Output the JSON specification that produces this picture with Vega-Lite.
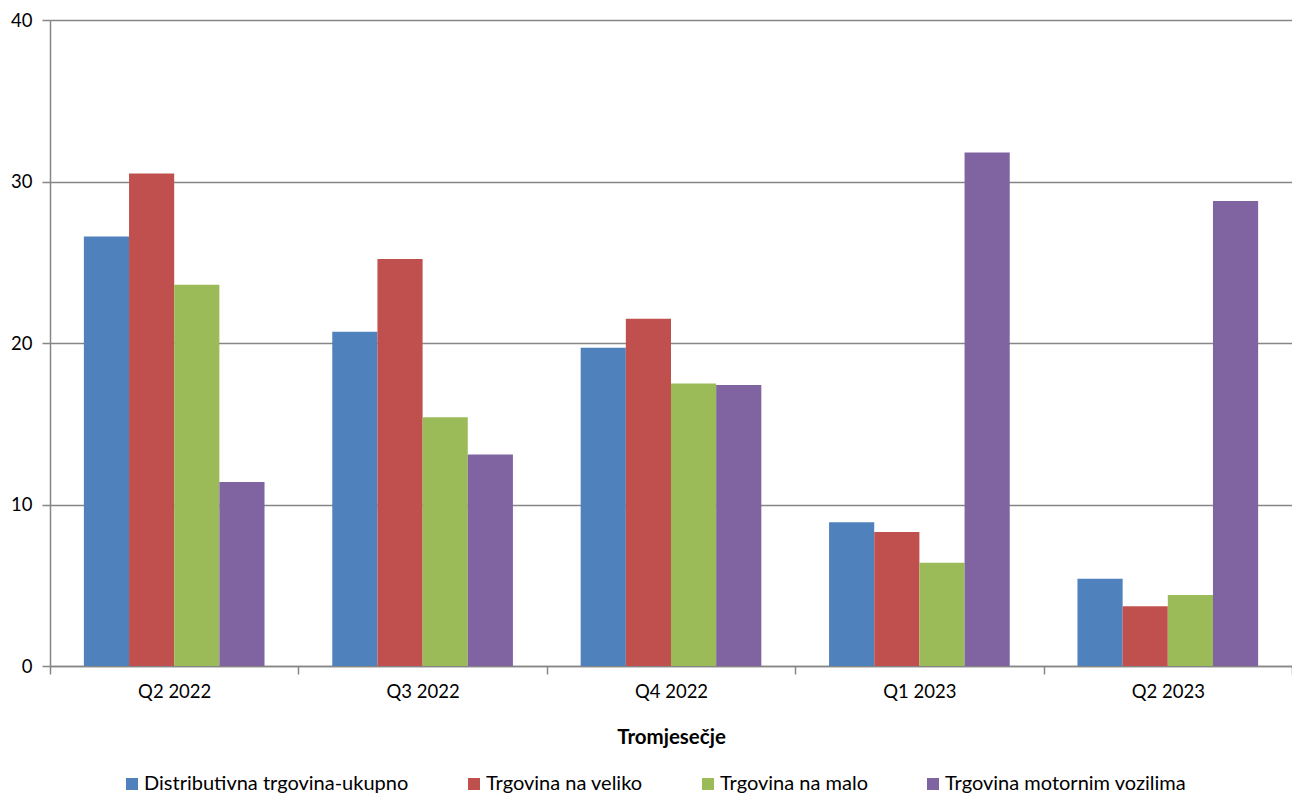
{
  "$schema": "https://vega.github.io/schema/vega-lite/v6.json",
  "autosize": {"type": "none"},
  "padding": {"left": 50, "top": 20, "right": 0, "bottom": 128},
  "width": 1242,
  "height": 646,
  "background": "white",
  "config": {
    "font": "Lato",
    "view": {"stroke": null},
    "axis": {"domainColor": "#868686", "tickColor": "#868686", "gridColor": "#868686", "labelColor": "#000000", "titleColor": "#000000"}
  },
  "data": {
    "values": [
      {"q": "Q2 2022", "s": "Distributivna trgovina-ukupno", "v": 26.6},
      {"q": "Q2 2022", "s": "Trgovina na veliko", "v": 30.5},
      {"q": "Q2 2022", "s": "Trgovina na malo", "v": 23.6},
      {"q": "Q2 2022", "s": "Trgovina motornim vozilima", "v": 11.4},
      {"q": "Q3 2022", "s": "Distributivna trgovina-ukupno", "v": 20.7},
      {"q": "Q3 2022", "s": "Trgovina na veliko", "v": 25.2},
      {"q": "Q3 2022", "s": "Trgovina na malo", "v": 15.4},
      {"q": "Q3 2022", "s": "Trgovina motornim vozilima", "v": 13.1},
      {"q": "Q4 2022", "s": "Distributivna trgovina-ukupno", "v": 19.7},
      {"q": "Q4 2022", "s": "Trgovina na veliko", "v": 21.5},
      {"q": "Q4 2022", "s": "Trgovina na malo", "v": 17.5},
      {"q": "Q4 2022", "s": "Trgovina motornim vozilima", "v": 17.4},
      {"q": "Q1 2023", "s": "Distributivna trgovina-ukupno", "v": 8.9},
      {"q": "Q1 2023", "s": "Trgovina na veliko", "v": 8.3},
      {"q": "Q1 2023", "s": "Trgovina na malo", "v": 6.4},
      {"q": "Q1 2023", "s": "Trgovina motornim vozilima", "v": 31.8},
      {"q": "Q2 2023", "s": "Distributivna trgovina-ukupno", "v": 5.4},
      {"q": "Q2 2023", "s": "Trgovina na veliko", "v": 3.7},
      {"q": "Q2 2023", "s": "Trgovina na malo", "v": 4.4},
      {"q": "Q2 2023", "s": "Trgovina motornim vozilima", "v": 28.8}
    ]
  },
  "mark": {"type": "bar"},
  "encoding": {
    "x": {
      "field": "q", "type": "nominal", "sort": null,
      "scale": {"paddingInner": 0, "paddingOuter": 0},
      "axis": {
        "title": "Tromjesečje", "titleFontSize": 20.5, "titleFontWeight": "bold", "titlePadding": 27,
        "labelAngle": 0, "labelFontSize": 18.5, "labelPadding": 8,
        "tickBand": "extent", "tickSize": 8, "tickWidth": 1.5, "domainWidth": 1.5, "grid": false
      }
    },
    "xOffset": {
      "field": "s", "type": "nominal",
      "sort": ["Distributivna trgovina-ukupno", "Trgovina na veliko", "Trgovina na malo", "Trgovina motornim vozilima"],
      "scale": {"paddingInner": 0, "paddingOuter": 0.75}
    },
    "y": {
      "field": "v", "type": "quantitative",
      "scale": {"domain": [0, 40]},
      "axis": {
        "title": null, "values": [0, 10, 20, 30, 40], "labelFontSize": 18.5, "labelPadding": 10,
        "tickSize": 8, "tickWidth": 1.5, "domainWidth": 1.5, "gridWidth": 1.5, "grid": true
      }
    },
    "color": {
      "field": "s", "type": "nominal",
      "sort": ["Distributivna trgovina-ukupno", "Trgovina na veliko", "Trgovina na malo", "Trgovina motornim vozilima"],
      "scale": {"range": ["#4F81BD", "#C0504D", "#9BBB59", "#8064A2"]},
      "legend": {
        "title": null, "orient": "none", "direction": "horizontal", "legendX": 72, "legendY": 754,
        "symbolType": "square", "symbolSize": 144, "symbolStrokeWidth": 0, "labelLimit": 0,
        "labelFontSize": 20, "labelOffset": 2, "columnPadding": 55
      }
    }
  }
}
